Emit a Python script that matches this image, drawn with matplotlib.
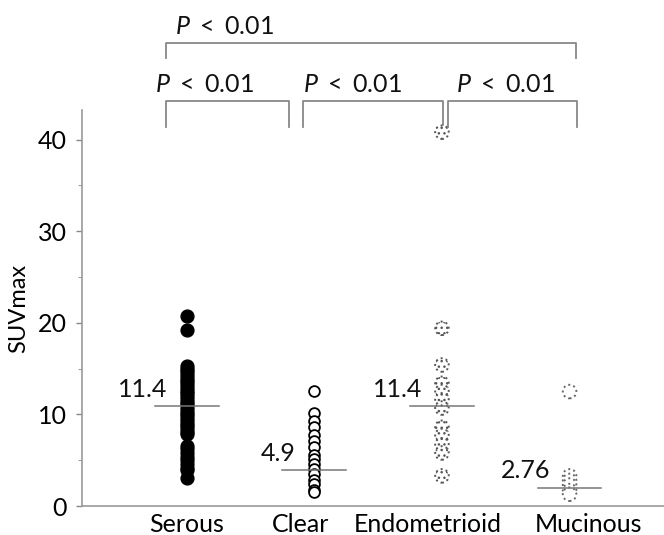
import numpy as np
import matplotlib.pyplot as plt

plt.rcParams['font.family'] = ['Lato', 'DejaVu Sans']
plt.rcParams['mathtext.fontset'] = 'custom'
plt.rcParams['mathtext.it'] = 'Lato:italic'
plt.rcParams['mathtext.rm'] = 'Lato'

# data
groups = ['Serous', 'Clear', 'Endometrioid', 'Mucinous']
serous = [20.7, 19.2, 15.3, 15.0, 14.7, 14.4, 14.1, 13.8, 13.5, 13.2, 12.9, 12.6,
          12.3, 12.0, 11.7, 11.4, 11.1, 10.8, 10.5, 10.2, 9.9, 9.6, 9.3, 9.0, 8.7,
          8.4, 8.1, 7.9, 6.6, 6.2, 5.8, 5.4, 5.0, 4.6, 4.2, 3.9, 3.1]
clear = [12.6, 10.2, 9.3, 8.6, 7.8, 7.1, 6.4, 5.6, 5.1, 4.6, 4.0, 3.5, 2.9, 2.4, 1.8, 1.5]
endometrioid = [40.8, 19.4, 15.4, 13.4, 12.5, 11.6, 10.7, 8.6, 7.7, 6.7, 5.8, 3.3]
mucinous = [12.5, 3.3, 2.8, 2.3, 1.7, 1.3]
mean_level = [10.9, 3.9, 10.9, 2.0]
mean_text = ['11.4', '4.9', '11.4', '2.76']
# comparisons (group index pairs) and their labels
pairs = [(0, 3), (0, 1), (1, 2), (2, 3)]
pair_text = [r'$\it{P}$ $<$ 0.01'] * 4
# bracket geometry: left/right offset from group centre, text offset from left leg
bracket_dx = [(-0.16, 0.05, 0.07), (-0.16, -0.2, -0.09), (-0.09, 0.01, 0.0), (0.05, 0.06, 0.06)]
# the category names sit a little off the dot columns in the original
label_shift = [0.0, -0.11, -0.11, 0.15]

fig = plt.figure(figsize=(6.64, 5.35), dpi=100)
ax = fig.add_axes([0.1235, 0.054, 0.8765, 0.74])

xs = np.arange(1, 5)
ax.scatter([xs[0]] * len(serous), serous, s=85, color='black', zorder=3)
ax.scatter([xs[1]] * len(clear), clear, s=60, facecolor='white', edgecolor='black',
           linewidth=1.3, zorder=3)
ax.scatter([xs[2]] * len(endometrioid), endometrioid, s=95, facecolor='white',
           edgecolor='#555555', hatch='...', linewidth=1.4, linestyle=':', zorder=3)
ax.scatter([xs[3]] * len(mucinous), mucinous, s=95, facecolor='white',
           edgecolor='#666666', linewidth=1.4, linestyle=':', zorder=3)

# mean lines with labels
for x, m, t in zip(xs, mean_level, mean_text):
    ax.plot([x - 0.25, x + 0.25], [m, m], color='#777777', lw=1.1, zorder=4)
    ax.text(x - 0.15, m + 0.6, t, ha='right', va='bottom', fontsize=18, color='#111111')

# significance brackets
for k, ((a, b), t, (dl, dr, dt)) in enumerate(zip(pairs, pair_text, bracket_dx)):
    if k == 0:
        y_top, y_leg, y_txt = 50.5, 48.9, 52.3
    else:
        y_top, y_leg, y_txt = 44.2, 41.4, 46.0
    xl, xr = xs[a] + dl, xs[b] + dr
    ax.plot([xl, xl, xr, xr], [y_leg, y_top, y_top, y_leg], color='#888888',
            lw=1.3, clip_on=False)
    ax.text(xl + dt, y_txt, t, ha='left', va='center', fontsize=18,
            color='#111111', clip_on=False)

ax.set_xlim(0.18, 4.74)
ax.set_ylim(0, 43.2)
ax.set_xticks(xs + np.array(label_shift))
ax.set_xticklabels(groups, fontsize=18)
ax.set_yticks([0, 10, 20, 30, 40])
ax.set_yticks([5, 15, 25, 35], minor=True)
ax.tick_params(axis='y', direction='out', length=4, width=1, color='#888888',
               labelsize=18, pad=7)
ax.tick_params(axis='y', which='minor', length=3, color='#888888')
ax.tick_params(axis='x', length=0, pad=5)
ax.set_ylabel('SUVmax', fontsize=17, labelpad=6)
for s in ['top', 'right']:
    ax.spines[s].set_visible(False)
for s in ['left', 'bottom']:
    ax.spines[s].set_color('#999999')
    ax.spines[s].set_linewidth(1.2)

fig.savefig('out.png', dpi=100)
